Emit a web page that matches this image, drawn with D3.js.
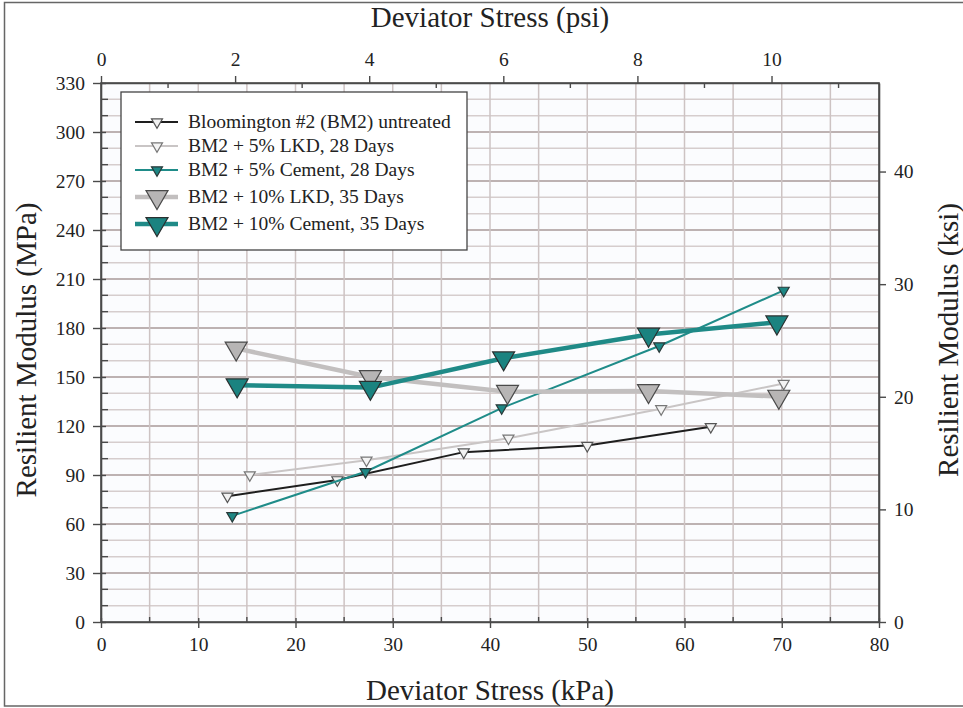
<!DOCTYPE html>
<html>
<head>
<meta charset="utf-8">
<script src="https://cdn.jsdelivr.net/npm/d3@7"></script>
<style>
  html, body { margin: 0; padding: 0; background: #ffffff; }
  svg { display: block; }
  text { font-family: "Liberation Serif", "Times New Roman", serif; fill: #222; }
</style>
</head>
<body>
<svg id="chart" width="963" height="708"></svg>
<script>
// Deviator stress (kPa) for each test sequence, per mixture
const stressUntreated = [13.0, 24.3, 37.3, 50.0, 62.7];
const mrUntreated     = [77, 87, 104, 108, 119.5];

const stressLkd5  = [15.3, 27.3, 41.9, 57.6, 70.2];
const mrLkd5      = [90, 99, 112.5, 130.5, 146];

const stressCem5  = [13.5, 27.2, 41.2, 57.4, 70.2];
const mrCem5      = [65, 92, 131, 169, 203];

const stressLkd10 = [13.9, 27.7, 41.8, 56.3, 69.7];
const mrLkd10     = [167.5, 150, 141, 141.5, 138];

const stressCem10 = [14.0, 27.7, 41.4, 56.3, 69.5];
const mrCem10     = [145, 143.5, 161.5, 176, 183.5];

const seriesNames = [
  "Bloomington #2 (BM2) untreated",
  "BM2 + 5% LKD, 28 Days",
  "BM2 + 5% Cement, 28 Days",
  "BM2 + 10% LKD, 35 Days",
  "BM2 + 10% Cement, 35 Days"
];

const kpaTicks = [0, 10, 20, 30, 40, 50, 60, 70, 80];
const mpaTicks = [0, 30, 60, 90, 120, 150, 180, 210, 240, 270, 300, 330];
const psiTicks = [0, 2, 4, 6, 8, 10];
const ksiTicks = [0, 10, 20, 30, 40];

const KPA_PER_PSI = 6.894757;

const styles = [
  { line: "#1e1e1e", width: 2,   fill: "#f2f2f2", stroke: "#555", size: "small" },
  { line: "#c9c5c5", width: 2,   fill: "#f4f4f4", stroke: "#777", size: "small" },
  { line: "#1f8c89", width: 2,   fill: "#1d8784", stroke: "#2a3a3a", size: "small" },
  { line: "#c2bfbf", width: 4.5, fill: "#b7b5b5", stroke: "#4a4a4a", size: "big" },
  { line: "#1f8a87", width: 4.5, fill: "#1b8380", stroke: "#2a3030", size: "big" }
];

const series = [
  [stressUntreated, mrUntreated],
  [stressLkd5, mrLkd5],
  [stressCem5, mrCem5],
  [stressLkd10, mrLkd10],
  [stressCem10, mrCem10]
].map(([xs, ys], i) => ({
  name: seriesNames[i],
  style: styles[i],
  points: xs.map((x, j) => ({ x, y: ys[j] }))
}));

const svg = d3.select("#chart");
const L = 101, R = 879, T = 83, B = 622;

const x = d3.scaleLinear().domain([0, 80]).range([L, R]);
const y = d3.scaleLinear().domain([0, 330]).range([B, T]);
const xPsi = d3.scaleLinear().domain([0, 80 / KPA_PER_PSI]).range([L, R]);
const yKsi = d3.scaleLinear().domain([0, 330 / KPA_PER_PSI]).range([B, T]);

// page border (left, top, bottom)
svg.append("path")
  .attr("d", "M963,2.5 H4.5 V706 H963")
  .attr("fill", "none").attr("stroke", "#666").attr("stroke-width", 1.5);

// plot background
svg.append("rect").attr("x", L).attr("y", T).attr("width", R - L).attr("height", B - T)
  .attr("fill", "#fbfcfe");

// grid: horizontal every 10 MPa (darker at the 30 MPa ticks), vertical every 5 kPa
const grid = svg.append("g");
d3.range(10, 330, 10).forEach(v => {
  const major = v % 30 === 0;
  grid.append("line")
    .attr("x1", L).attr("x2", R).attr("y1", y(v)).attr("y2", y(v))
    .attr("stroke", major ? "#bdb2b2" : "#d6cdcd")
    .attr("stroke-width", major ? 1.8 : 1.5);
});
d3.range(5, 80, 5).forEach(v => {
  grid.append("line")
    .attr("x1", x(v)).attr("x2", x(v)).attr("y1", T).attr("y2", B)
    .attr("stroke", "#cdc3c3").attr("stroke-width", 1.5);
});

// axes
const axisColor = "#4a4a4a";
function styleAxis(g) {
  g.attr("font-family", null);
  g.selectAll("path.domain").attr("stroke", axisColor).attr("stroke-width", 1.6);
  g.selectAll(".tick line").attr("stroke", axisColor).attr("stroke-width", 1.4);
  g.selectAll(".tick text")
    .style("font-family", "'Liberation Serif', serif")
    .style("font-size", "19.5px").attr("fill", "#2a2a2a");
}

// bottom kPa axis
const gB = svg.append("g").attr("transform", `translate(0,${B})`)
  .call(d3.axisBottom(x).tickValues(kpaTicks).tickFormat(d3.format("d"))
    .tickSizeInner(6).tickSizeOuter(0).tickPadding(9));
styleAxis(gB);
gB.selectAll(".tick line").attr("y1", -4);
d3.range(5, 80, 10).forEach(v => {
  gB.append("line").attr("x1", x(v)).attr("x2", x(v)).attr("y1", 0).attr("y2", -5)
    .attr("stroke", axisColor).attr("stroke-width", 1.4);
});

// left MPa axis
const gL = svg.append("g").attr("transform", `translate(${L},0)`)
  .call(d3.axisLeft(y).tickValues(mpaTicks).tickFormat(d3.format("d"))
    .tickSizeInner(8).tickSizeOuter(0).tickPadding(8));
styleAxis(gL);
gL.selectAll(".tick line").attr("x1", 5);
d3.range(10, 330, 10).filter(v => v % 30 !== 0).forEach(v => {
  gL.append("line").attr("x1", 0).attr("x2", 7).attr("y1", y(v)).attr("y2", y(v))
    .attr("stroke", axisColor).attr("stroke-width", 1.4);
});

// top psi axis
const gT = svg.append("g").attr("transform", `translate(0,${T})`)
  .call(d3.axisTop(xPsi).tickValues(psiTicks).tickFormat(d3.format("d"))
    .tickSizeInner(7).tickSizeOuter(0).tickPadding(10));
styleAxis(gT);
d3.range(1, 12, 2).forEach(v => {
  gT.append("line").attr("x1", xPsi(v)).attr("x2", xPsi(v)).attr("y1", 0).attr("y2", 5)
    .attr("stroke", axisColor).attr("stroke-width", 1.4);
});

// right ksi axis
const gR = svg.append("g").attr("transform", `translate(${R},0)`)
  .call(d3.axisRight(yKsi).tickValues(ksiTicks).tickFormat(d3.format("d"))
    .tickSizeInner(7).tickSizeOuter(0).tickPadding(8));
styleAxis(gR);

// close the frame
svg.append("rect").attr("x", L).attr("y", T).attr("width", R - L).attr("height", B - T)
  .attr("fill", "none").attr("stroke", axisColor).attr("stroke-width", 1.6);

// axis titles
svg.append("text").attr("x", 490).attr("y", 27).attr("text-anchor", "middle")
  .style("font-size", "29px").text("Deviator Stress (psi)");
svg.append("text").attr("x", 490).attr("y", 700).attr("text-anchor", "middle")
  .style("font-size", "29px").text("Deviator Stress (kPa)");
svg.append("text").attr("transform", "translate(36,350) rotate(-90)")
  .attr("text-anchor", "middle").style("font-size", "29px").text("Resilient Modulus (MPa)");
svg.append("text").attr("transform", "translate(958,340) rotate(-90)")
  .attr("text-anchor", "middle").style("font-size", "29px").text("Resilient Modulus (ksi)");

// downward triangle marker, centroid on the data point
function tri(cx, cy, big) {
  const hw = big ? 11 : 5.5, h = big ? 19 : 9.5;
  const top = cy - h / 3, bot = cy + 2 * h / 3;
  return `M${cx - hw},${top} L${cx + hw},${top} L${cx},${bot} Z`;
}

const line = d3.line().x(d => x(d.x)).y(d => y(d.y));
const plot = svg.append("g");
series.forEach(s => {
  plot.append("path").datum(s.points).attr("d", line)
    .attr("fill", "none").attr("stroke", s.style.line)
    .attr("stroke-width", s.style.width).attr("stroke-linejoin", "round");
  plot.selectAll(null).data(s.points).enter().append("path")
    .attr("d", d => tri(x(d.x), y(d.y), s.style.size === "big"))
    .attr("fill", s.style.fill).attr("stroke", s.style.stroke)
    .attr("stroke-width", 1.2);
});

// legend
const lg = svg.append("g");
lg.append("rect").attr("x", 121).attr("y", 92).attr("width", 346).attr("height", 158)
  .attr("fill", "#ffffff").attr("stroke", "#444").attr("stroke-width", 1.3);
const rowY = [122, 146, 170, 197, 224];
series.forEach((s, i) => {
  const yy = rowY[i];
  lg.append("line").attr("x1", 135).attr("x2", 178).attr("y1", yy).attr("y2", yy)
    .attr("stroke", s.style.line).attr("stroke-width", s.style.width);
  lg.append("path").attr("d", tri(157, yy, s.style.size === "big"))
    .attr("fill", s.style.fill).attr("stroke", s.style.stroke).attr("stroke-width", 1.2);
  lg.append("text").attr("x", 188).attr("y", yy + 6)
    .style("font-size", "19.5px").text(s.name);
});
</script>
</body>
</html>
